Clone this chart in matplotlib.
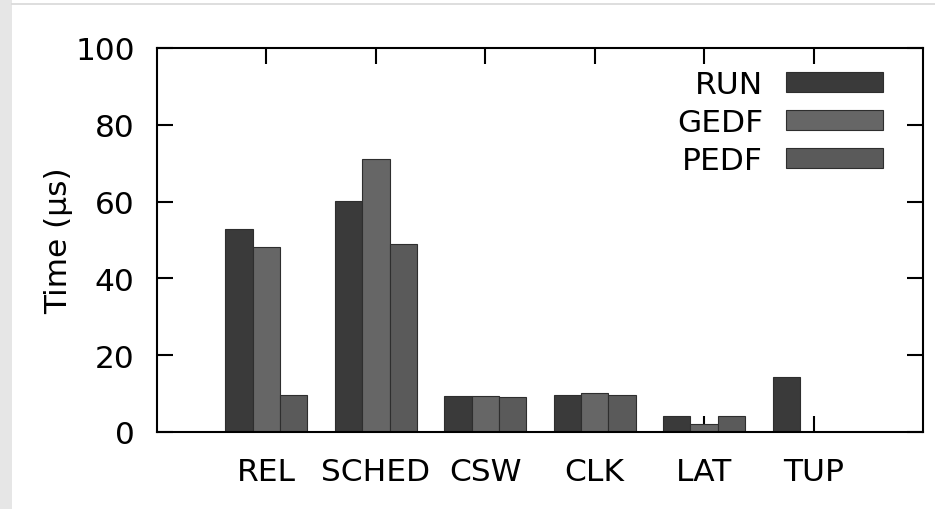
import matplotlib
matplotlib.use("Agg")
import matplotlib.pyplot as plt
import numpy as np
from matplotlib.patches import Rectangle
from matplotlib.lines import Line2D

categories = ["REL", "SCHED", "CSW", "CLK", "LAT", "TUP"]
run_vals = [52.8, 60.1, 9.3, 9.7, 4.1, 14.4]
gedf_vals = [48.1, 71.1, 9.45, 10.1, 2.0, 0.0]
pedf_vals = [9.6, 49.0, 9.1, 9.7, 4.1, 0.0]
series_names = ["RUN", "GEDF", "PEDF"]
series_colors = ["#3a3a3a", "#666666", "#5a5a5a"]
y_ticks = [0, 20, 40, 60, 80, 100]

plt.rcParams['font.family'] = ['DejaVu Sans']
FS = 22.5

fig = plt.figure(figsize=(9.35, 5.1), dpi=100)
fig.patch.set_facecolor("white")

# light grey strip on the left and thin line along the top
fig.patches.append(Rectangle((0, 0), 12 / 935, 1, transform=fig.transFigure,
                             facecolor="#e6e6e6", edgecolor="none", zorder=0))
fig.lines.append(Line2D([12 / 935, 1], [1 - 5 / 510, 1 - 5 / 510],
                        transform=fig.transFigure, color="#d8d8d8", lw=1.2))

ax = fig.add_axes([157 / 935, 1 - 433 / 510, (923 - 157) / 935, (433 - 49) / 510])
ax.set_axisbelow(True)

x = np.arange(len(categories))
width = 0.25
for i, (vals, name, col) in enumerate(zip([run_vals, gedf_vals, pedf_vals],
                                          series_names, series_colors)):
    ax.bar(x + (i - 1) * width, vals, width, color=col, edgecolor="#2e2e2e",
           linewidth=0.8, label=name, zorder=2)

ax.set_xlim(-1, 6)
ax.set_ylim(0, 100)
ax.set_xticks(x)
ax.set_xticklabels(categories)
ax.set_yticks(y_ticks)
ax.set_ylabel("Time (µs)", fontsize=FS)
ax.yaxis.set_label_coords(-0.1097, 0.5)

ax.tick_params(axis="both", direction="in", length=11.5, width=1.5,
               labelsize=FS, top=True, right=True, color="black")
ax.tick_params(axis="y", pad=16)
ax.tick_params(axis="x", pad=18)
for sp in ax.spines.values():
    sp.set_linewidth(1.5)
    sp.set_zorder(3)

leg = ax.legend(loc="upper right", bbox_to_anchor=(0.964, 0.975), frameon=False,
                fontsize=FS, markerfirst=False, handlelength=3.1,
                handleheight=0.61, handletextpad=0.74, labelspacing=0.28,
                borderaxespad=0)
for t in leg.get_texts():
    t.set_ha("right")

fig.savefig("out.png", dpi=100)
